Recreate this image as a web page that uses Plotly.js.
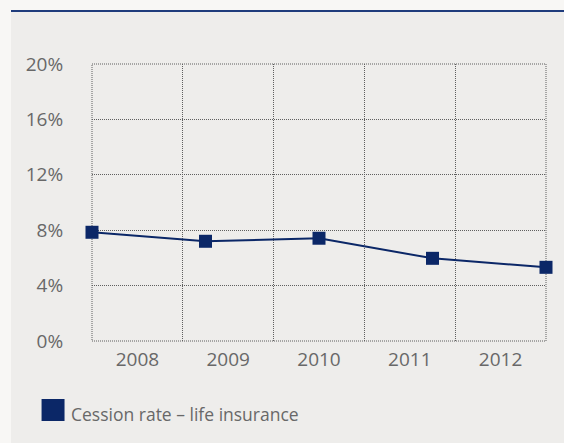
<!DOCTYPE html>
<html>
<head>
<meta charset="utf-8">
<script src="https://cdn.plot.ly/plotly-3.0.1.min.js"></script>
<style>
  html, body { margin:0; padding:0; background:#f8f7f5; width:564px; height:443px; overflow:hidden; }
  #wrap { position:absolute; left:11px; top:10px; width:553px; height:431px; border-top:2px solid #1f3c7c; background:#eeedeb; }
  #chart { width:553px; height:431px; }
</style>
</head>
<body>
<div id="wrap"><div id="chart"></div></div>
<script>
const years = ['2008', '2009', '2010', '2011', '2012'];
const cessionRate = [7.85, 7.2, 7.42, 5.97, 5.32];
const yTicks = [0, 4, 8, 12, 16, 20];
const seriesName = 'Cession rate \u2013 life insurance';

const navy = '#0b2767';
const gridColor = '#5f5f5f';
const gridDash = '1px,1px';
const textColor = '#686868';
const fontFam = '"Open Sans", "Noto Sans", sans-serif';

const trace = {
  x: years, y: cessionRate,
  xaxis: 'x2', yaxis: 'y',
  type: 'scatter', mode: 'lines+markers',
  name: seriesName,
  line: { color: navy, width: 2 },
  marker: { symbol: 'square', size: 13, color: navy },
  cliponaxis: false,
  showlegend: false
};
// invisible trace to bind the category axis
const anchorTrace = {
  x: years, y: years.map(() => null), xaxis: 'x', yaxis: 'y',
  type: 'scatter', mode: 'markers', showlegend: false, hoverinfo: 'skip'
};

const plotW = 454.5, plotH = 277, mL = 80.5, mB = 102;
const px = v => (v - mL) / plotW;
const py = v => (329 - v) / plotH;

const layout = {
  width: 553, height: 431,
  margin: { l: mL, r: 18, t: 52, b: mB },
  paper_bgcolor: '#eeedeb', plot_bgcolor: '#eeedeb',
  font: { family: fontFam, color: textColor, size: 17 },
  xaxis: {
    type: 'category', categoryorder: 'array', categoryarray: years,
    range: [-0.5, 4.5], tickson: 'boundaries',
    showgrid: true, gridcolor: gridColor, griddash: gridDash, gridwidth: 1,
    ticks: '', ticklabelstandoff: 5, showline: false, zeroline: false,
    tickfont: { size: 19, color: textColor, family: fontFam },
    fixedrange: true
  },
  xaxis2: {
    type: 'category', categoryorder: 'array', categoryarray: years,
    range: [0, 4], overlaying: 'x', showgrid: false, showticklabels: false,
    ticks: '', zeroline: false, showline: false, fixedrange: true
  },
  yaxis: {
    range: [0, 20], tickvals: yTicks, ticktext: yTicks.map(v => v + '%'),
    showgrid: true, gridcolor: gridColor, griddash: gridDash, gridwidth: 1,
    zeroline: false, showline: false,
    ticks: 'outside', ticklen: 24, tickcolor: 'rgba(0,0,0,0)',
    tickfont: { size: 19, color: textColor, family: fontFam },
    fixedrange: true
  },
  shapes: [
    { type: 'rect', xref: 'paper', yref: 'paper', x0: 0, x1: 1, y0: 0, y1: 1,
      line: { color: gridColor, width: 1, dash: gridDash }, layer: 'below' },
    { type: 'rect', xref: 'paper', yref: 'paper',
      x0: px(30), x1: px(53), y0: py(387), y1: py(409),
      fillcolor: navy, line: { width: 0 } }
  ],
  annotations: [
    { xref: 'paper', yref: 'paper', x: px(57), y: py(401.5), xanchor: 'left', yanchor: 'middle',
      text: seriesName, showarrow: false,
      font: { size: 17.5, color: textColor, family: fontFam } }
  ]
};

Plotly.newPlot('chart', [anchorTrace, trace], layout, { displayModeBar: false, staticPlot: true });
</script>
</body>
</html>
